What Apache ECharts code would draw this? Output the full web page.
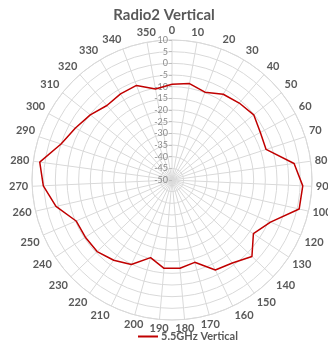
<!DOCTYPE html>
<html><head><meta charset="utf-8">
<script src="https://cdn.jsdelivr.net/npm/echarts@6/dist/echarts.min.js"></script>
<style>html,body{margin:0;padding:0;background:#fff}#c{width:328px;height:350px}</style>
</head><body><div id="c"></div>
<script>
const titleText = 'Radio2 Vertical';
const seriesName = '5.5GHz Vertical';
const angleLabels = ['0','10','20','30','40','50','60','70','80','90','100','120','130','140','150','160','170','180','190','200','210','220','230','240','250','260','270','280','290','300','310','320','330','340','350'];
const gainValues = [-9,-8,-9.8,-7.2,-6.2,-5.2,-7,-7.6,2.8,6.1,5.9,-4.1,-8.2,-2.6,-6,-7.2,-13.4,-12,-12,-15.5,-9.8,-7.5,-5.6,-5.5,-5.3,1,5.2,7.2,0,-3,-5.2,-7.6,-7,-6.7,-10.4];
const radialMin = -50, radialMax = 10, radialStep = 5;

const points = gainValues.map((v, i) => [v, i]);
points.push([gainValues[0], gainValues.length]);

const chart = echarts.init(document.getElementById('c'));
chart.setOption({
  animation: false,
  title: {text: titleText, left: 'center', top: 3,
    textStyle: {fontFamily: 'Lato', fontSize: 15, fontWeight: 'bold', color: '#595959'}},
  polar: {center: [172, 180], radius: 140},
  angleAxis: {type: 'value', min: 0, max: angleLabels.length, interval: 1, startAngle: 90, clockwise: true,
    axisLine: {show: true, lineStyle: {color: '#d9d9d9'}}, axisTick: {show: false},
    axisLabel: {formatter: v => angleLabels[v] ?? '', margin: 4, fontFamily: 'Lato', fontSize: 11, fontWeight: 'bold', color: '#595959'},
    splitLine: {show: true, lineStyle: {color: '#d9d9d9'}}},
  radiusAxis: {type: 'value', min: radialMin, max: radialMax, interval: radialStep,
    axisLine: {show: false}, axisTick: {show: true, length: 3, lineStyle: {color: '#bfbfbf'}},
    axisLabel: {fontSize: 9, color: '#8c8c8c', margin: 4, fontFamily: 'Lato'},
    splitLine: {show: true, lineStyle: {color: '#d9d9d9'}}},
  legend: {bottom: 3, left: 133, icon: 'rect', itemWidth: 20, itemHeight: 2, itemGap: 4,
    textStyle: {fontFamily: 'Lato', fontSize: 11, fontWeight: 'bold', color: '#595959', padding: [0, 0, 0, -2]}},
  series: [{name: seriesName, type: 'line', coordinateSystem: 'polar', data: points, symbol: 'none',
    lineStyle: {color: '#c00000', width: 1.5}, itemStyle: {color: '#c00000'}}]
});
</script></body></html>
